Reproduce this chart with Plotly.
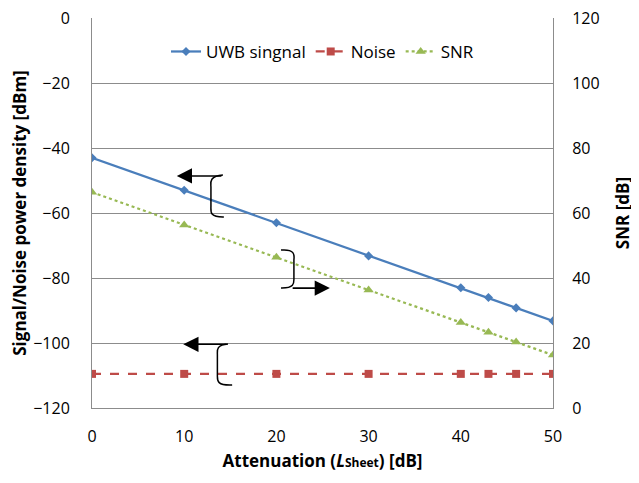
import plotly.graph_objects as go

attenuation = [0, 10, 20, 30, 40, 43, 46, 50]
uwb_signal = [-43, -53, -63, -73.2, -83, -86, -89.2, -93.2]
noise = [-109.5, -109.5, -109.5, -109.5, -109.5, -109.5, -109.5, -109.5]
snr = [66.4, 56.3, 46.4, 36.3, 26.3, 23.3, 20.3, 16.3]

left_ticks = [0, -20, -40, -60, -80, -100, -120]
right_ticks = [0, 20, 40, 60, 80, 100, 120]
x_ticks = [0, 10, 20, 30, 40, 50]

FONT = "Open Sans"
BLUE = "#4A7EBB"
RED = "#BE4B48"
GREEN = "#98B954"
AX = "#8C8C8C"

fig = go.Figure()
fig.add_trace(go.Scatter(x=attenuation, y=uwb_signal, name="UWB singnal", mode="lines+markers",
                         line=dict(color=BLUE, width=2.25),
                         marker=dict(symbol="diamond", size=7, color=BLUE)))
fig.add_trace(go.Scatter(x=attenuation, y=noise, name="Noise", mode="lines+markers",
                         line=dict(color=RED, width=2.25, dash="dash"),
                         marker=dict(symbol="square", size=8, color=RED)))
fig.add_trace(go.Scatter(x=attenuation, y=snr, name="SNR", mode="lines+markers", yaxis="y2",
                         line=dict(color=GREEN, width=2.25, dash="dot"),
                         marker=dict(symbol="triangle-up", size=9, color=GREEN)))

# bracket shapes (data coords)
brackets = [
    "M 14.2,-48.3 C 12.6,-48.6 12.9,-51 12.9,-52 L 12.9,-58 C 12.9,-59.5 12.7,-61.3 14.3,-61.2",
    "M 20.5,-71.4 C 22.2,-71.0 21.9,-73.5 21.9,-74.5 L 21.9,-80 C 21.9,-81.5 22.0,-83.2 20.5,-83.1",
    "M 14.75,-100.3 C 13.4,-100.6 13.6,-102.5 13.6,-103.5 L 13.6,-110 C 13.6,-111.5 13.5,-113.1 15.2,-112.9",
]
for p in brackets:
    fig.add_shape(type="path", path=p, xref="x", yref="y", line=dict(color="black", width=1.5))

# arrows (tail -> head)
arrows = [((14.2, -48.6), (9.2, -48.6)),
          ((21.6, -83.1), (25.8, -83.1)),
          ((14.75, -100.4), (9.9, -100.4))]
for (tx, ty), (hx, hy) in arrows:
    fig.add_annotation(x=hx, y=hy, ax=tx, ay=ty, xref="x", yref="y", axref="x", ayref="y",
                       showarrow=True, arrowhead=2, arrowsize=1.9, arrowwidth=1.6,
                       arrowcolor="black", text="")

fig.update_layout(
    width=631, height=475,
    margin=dict(l=84, r=86, t=10, b=75),
    paper_bgcolor="white", plot_bgcolor="white",
    font=dict(family=FONT, size=16, color="black"),
    showlegend=True,
    legend=dict(orientation="h", x=0.5, xanchor="center", y=0.913, yanchor="middle",
                font=dict(family=FONT, size=17), bgcolor="rgba(0,0,0,0)",
                tracegroupgap=0),
    xaxis=dict(range=[0, 50], tickvals=x_ticks, showgrid=False, zeroline=False, automargin=False,
               showline=True, linecolor=AX, linewidth=1, ticks="", ticklabelstandoff=14,
               ticklabeloverflow="allow", tickfont=dict(size=16),
               title=dict(text="<b>Attenuation (<i>L</i><span style='font-size:12px'>Sheet</span>) [dB]</b>",
                          font=dict(size=17), standoff=8)),
    yaxis=dict(range=[-120, 0], tickvals=left_ticks, showgrid=True, gridcolor=AX, gridwidth=1,
               automargin=False, ticklabelstandoff=18, ticklabeloverflow="allow",
               zeroline=False, showline=True, linecolor=AX, ticks="", tickfont=dict(size=16),
               title=dict(text="<b>Signal/Noise power density [dBm]</b>", font=dict(size=17), standoff=6)),
    yaxis2=dict(range=[0, 120], tickvals=right_ticks, overlaying="y", side="right", showgrid=False,
                automargin=False, ticklabelstandoff=15, ticklabeloverflow="allow",
                zeroline=False, showline=True, linecolor=AX, ticks="", tickfont=dict(size=16),
                title=dict(text="<b>SNR [dB]</b>", font=dict(size=17), standoff=18)),
)

fig.write_html("out.html")
